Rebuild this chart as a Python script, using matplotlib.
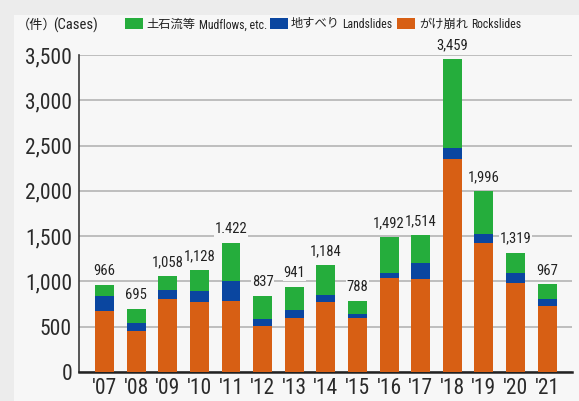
import matplotlib
matplotlib.use('Agg')
import matplotlib.pyplot as plt
from matplotlib.patches import Rectangle
from matplotlib import font_manager

years = ["'07", "'08", "'09", "'10", "'11", "'12", "'13", "'14", "'15", "'16", "'17", "'18", "'19", "'20", "'21"]
totals = [966, 695, 1058, 1128, 1422, 837, 941, 1184, 788, 1492, 1514, 3459, 1996, 1319, 967]
total_labels = ['966', '695', '1,058', '1,128', '1.422', '837', '941', '1,184', '788', '1,492', '1,514', '3,459', '1,996', '1,319', '967']
rockslides = [673, 453, 806, 773, 784, 508, 596, 773, 596, 1038, 1027, 2351, 1424, 982, 728]
landslides = [166, 88, 99, 121, 220, 77, 88, 77, 44, 55, 176, 125, 99, 111, 78]
mudflows = [t - r - l for t, r, l in zip(totals, rockslides, landslides)]

green = '#25ad3c'
blue = '#0a46a0'
orange = '#d75f14'
bg = '#f7f7f7'

names = set(f.name for f in font_manager.fontManager.ttflist)
narrow = 'DejaVu Sans'
for cand in ['Roboto Condensed', 'PT Sans Narrow', 'Open Sans Condensed', 'Archivo Narrow']:
    if cand in names:
        narrow = cand
        break
jp = ['Noto Sans CJK JP', 'DejaVu Sans']

fig = plt.figure(figsize=(5.79, 4.01), dpi=100)
fig.patch.set_facecolor('#ececec')
panel = Rectangle((14 / 579, 0), 1, 1 - 15 / 401, transform=fig.transFigure,
                  facecolor=bg, edgecolor='none', zorder=-5)
fig.add_artist(panel)

ax = fig.add_axes([79 / 579, 1 - 372 / 401, (572 - 79) / 579, (372 - 55) / 401])
ax.set_facecolor(bg)
x = range(len(years))
w = 0.6
ax.bar(x, rockslides, w, color=orange, zorder=3)
ax.bar(x, landslides, w, bottom=rockslides, color=blue, zorder=3)
bot2 = [r + l for r, l in zip(rockslides, landslides)]
ax.bar(x, mudflows, w, bottom=bot2, color=green, zorder=3)

for i, (t, lab) in enumerate(zip(totals, total_labels)):
    ax.text(i, t + 75, lab, ha='center', va='bottom', fontsize=10.5, family=narrow, color='#222222',
            zorder=4, bbox=dict(facecolor=bg, edgecolor='none', pad=0.5))

ax.set_ylim(0, 3500)
ax.set_xlim(-0.81, 14.79)
ax.set_yticks(range(0, 3501, 500))
ax.set_yticklabels([f'{v:,}' for v in range(0, 3501, 500)], fontsize=15.5, family=narrow, color='#2a2a2a')
ax.set_xticks(list(x))
ax.set_xticklabels(years, fontsize=15.5, family=narrow, color='#2a2a2a')
ax.yaxis.grid(True, color='#b4b4b4', linewidth=1.2, zorder=0)
ax.set_axisbelow(True)
for s in ['top', 'right']:
    ax.spines[s].set_visible(False)
ax.spines['left'].set_color('#3a3a3a')
ax.spines['left'].set_linewidth(1.2)
ax.spines['bottom'].set_color('#222222')
ax.spines['bottom'].set_linewidth(1.8)
ax.tick_params(axis='y', length=0, pad=5)
ax.tick_params(axis='x', length=0, pad=4)

# legend row
fig.text(17 / 579, 1 - 25 / 401, '（件）', fontsize=9.5, family=jp, va='center', color='#222222')
fig.text(53 / 579, 1 - 25 / 401, '(Cases)', fontsize=10.5, family=narrow, va='center', color='#222222')
items = [(125, green, '土石流等', 146, 'Mudflows, etc.', 199),
         (270, blue, '地すべり', 291, 'Landslides', 342),
         (397, orange, 'がけ崩れ', 419, 'Rockslides', 471)]
for px, c, jt, jx, et, ex in items:
    fig.add_artist(Rectangle((px / 579, 1 - 29 / 401), 18 / 579, 11 / 401,
                             transform=fig.transFigure, facecolor=c, edgecolor='none'))
    fig.text(jx / 579, 1 - 24 / 401, jt, fontsize=8.8, family=jp, va='center', color='#222222')
    fig.text(ex / 579, 1 - 25 / 401, et, fontsize=8.5, family=narrow, va='center', color='#222222')

fig.savefig('out.png', dpi=100, facecolor=fig.get_facecolor())
